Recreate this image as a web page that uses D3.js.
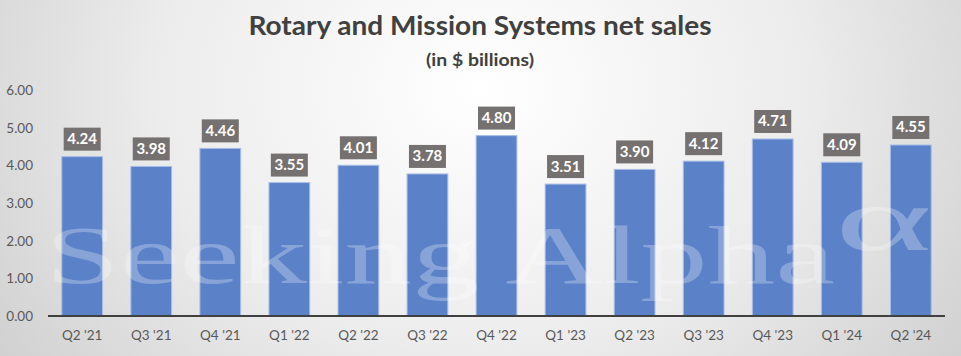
<!DOCTYPE html>
<html><head><meta charset="utf-8">
<script src="https://cdn.jsdelivr.net/npm/d3@7"></script>
<style>body{margin:0;padding:0;overflow:hidden;}svg{display:block;}</style>
</head><body>
<svg id="chart" width="961" height="356"></svg>
<script>
const categories = ["Q2 '21","Q3 '21","Q4 '21","Q1 '22","Q2 '22","Q3 '22","Q4 '22","Q1 '23","Q2 '23","Q3 '23","Q4 '23","Q1 '24","Q2 '24"];
const netSales = [4.24,3.98,4.46,3.55,4.01,3.78,4.80,3.51,3.90,4.12,4.71,4.09,4.55];
const yTicks = [0,1,2,3,4,5,6];
const titleText = "Rotary and Mission Systems net sales";
const subtitleText = "(in $ billions)";

const W = 961, H = 356;
const svg = d3.select("#chart");
const defs = svg.append("defs");
const rg = defs.append("radialGradient").attr("id","bg").attr("cx","50%").attr("cy","25%").attr("r","75%")
  .attr("gradientTransform","translate(0.5,0.25) scale(1,2.2) translate(-0.5,-0.25)");
rg.append("stop").attr("offset","0%").attr("stop-color","#ffffff");
rg.append("stop").attr("offset","45%").attr("stop-color","#ececec");
rg.append("stop").attr("offset","100%").attr("stop-color","#c2c2c2");
svg.append("rect").attr("width",W).attr("height",H).attr("fill","url(#bg)");

const x = d3.scaleBand().domain(categories).range([48,945]).paddingInner(0.41).paddingOuter(0.2);
const y = d3.scaleLinear().domain([0,6]).range([316,90.5]);

// title
svg.append("text").attr("x",480).attr("y",35).attr("text-anchor","middle")
  .attr("font-family","Lato, 'Open Sans', sans-serif").attr("font-weight","bold").attr("font-size",27)
  .attr("fill","#404040").attr("textLength",463).attr("lengthAdjust","spacingAndGlyphs").text(titleText);
svg.append("text").attr("x",480).attr("y",66).attr("text-anchor","middle")
  .attr("font-family","Lato, 'Open Sans', sans-serif").attr("font-weight","bold").attr("font-size",17)
  .attr("fill","#404040").attr("textLength",108).attr("lengthAdjust","spacingAndGlyphs").text(subtitleText);

// y axis labels
const yAxis = d3.axisLeft(y).tickValues(yTicks).tickFormat(d3.format(".2f")).tickSize(0).tickPadding(0);
const ya = svg.append("g").attr("transform","translate(33,0)").call(yAxis);
ya.select(".domain").remove();
ya.selectAll("text").attr("font-family","Lato, sans-serif").attr("font-size",13.5).attr("fill","#595959");

// bars
svg.append("g").selectAll("rect").data(netSales).join("rect")
  .attr("x",(d,i)=>x(categories[i])).attr("width",x.bandwidth())
  .attr("y",d=>y(d)).attr("height",d=>y(0)-y(d))
  .attr("fill","#5b82c9").attr("stroke","#a8bde6").attr("stroke-width",1);

// watermark
const wm = svg.append("g").attr("fill","#ffffff").attr("fill-opacity",0.27);
wm.append("text").attr("x",45).attr("y",283).attr("font-family","'Liberation Serif','DejaVu Serif',serif")
  .attr("font-size",82).attr("textLength",790).attr("lengthAdjust","spacingAndGlyphs").text("Seeking Alpha");
wm.append("text").attr("x",835).attr("y",250).attr("font-family","'Liberation Serif','DejaVu Serif',serif")
  .attr("font-size",90).attr("textLength",97).attr("lengthAdjust","spacingAndGlyphs").text("α");

// x axis
const xAxis = d3.axisBottom(x).tickSize(0).tickPadding(14);
const xa = svg.append("g").attr("transform","translate(0,316)").call(xAxis);
xa.select(".domain").attr("stroke","#404040").attr("stroke-width",2).attr("d","M48,0H945");
xa.selectAll("text").attr("font-family","Lato, sans-serif").attr("font-size",13.5).attr("fill","#595959");

// labels
const lg = svg.append("g").selectAll("g").data(netSales).join("g")
  .attr("transform",(d,i)=>`translate(${x(categories[i])+x.bandwidth()/2},${y(d)-6})`);
lg.append("rect").attr("x",-18.5).attr("y",-23).attr("width",37).attr("height",23).attr("fill","#767171");
lg.append("text").attr("x",0).attr("y",-6.5).attr("text-anchor","middle")
  .attr("font-family","Lato, sans-serif").attr("font-weight","bold").attr("font-size",15).attr("fill","#ffffff")
  .text(d=>d3.format(".2f")(d));
</script>
</body></html>
